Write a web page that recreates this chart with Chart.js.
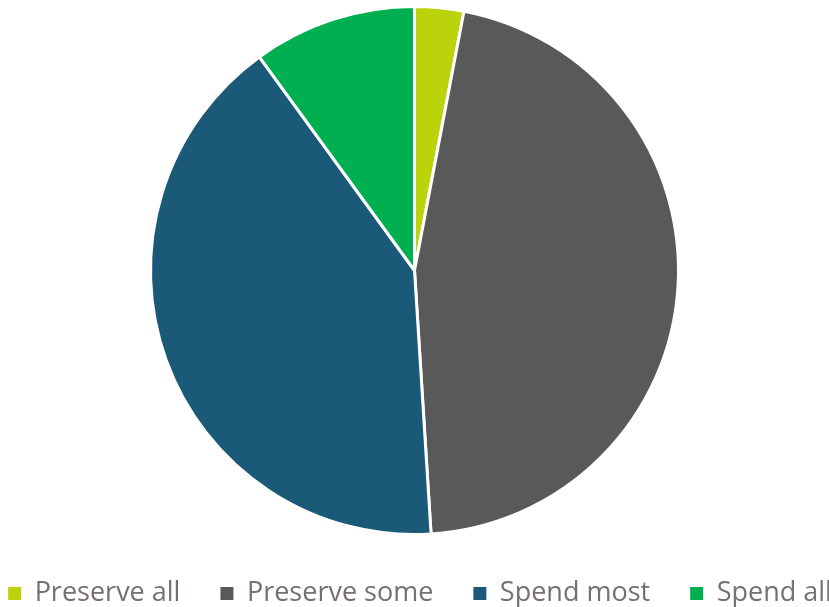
<!DOCTYPE html>
<html>
<head>
<meta charset="utf-8">
<script src="https://cdn.jsdelivr.net/npm/chart.js@4"></script>
<style>
  html, body { margin: 0; padding: 0; background: #fff; }
  #wrap { width: 829px; height: 607px; }
</style>
</head>
<body>
<div id="wrap"><canvas id="pieChart" width="829" height="607"></canvas></div>
<script>
// chart data
const labels = ["Preserve all", "Preserve some", "Spend most", "Spend all"];
const values = [3, 46, 41, 10];
const colors = ["#BBD30B", "#595959", "#1A5977", "#00B050"];

// keep the legend on one row and give it a fixed height
const legendFitPlugin = {
  id: "legendFit",
  afterInit(chart) {
    const legend = chart.legend;
    const fit = legend.fit;
    legend.fit = function () {
      const w = this.maxWidth;
      this.maxWidth = 2000;
      fit.call(this);
      this.maxWidth = w;
      this.width = w;
      this.height = 67;
    };
  },
  afterLayout(chart) {
    // widen the legend box so the last item is not wrapped away
    chart.legend.left -= 200;
    chart.legend.right += 211;
  }
};

new Chart(document.getElementById("pieChart"), {
  type: "pie",
  data: {
    labels: labels,
    datasets: [
      {
        data: values,
        backgroundColor: colors,
        borderColor: "#fff",
        borderWidth: 3,
        radius: 264
      }
    ]
  },
  options: {
    responsive: false,
    animation: false,
    layout: { padding: { top: 1, bottom: 0, left: 0, right: 0 } },
    plugins: {
      tooltip: { enabled: false },
      legend: {
        position: "bottom",
        labels: {
          color: "#767070",
          boxWidth: 13,
          boxHeight: 13,
          padding: 40,
          font: { family: "Open Sans", size: 27 },
          generateLabels(chart) {
            const items = Chart.overrides.pie.plugins.legend.labels.generateLabels(chart);
            items.forEach(it => { it.lineWidth = 0; });
            return items;
          }
        }
      }
    }
  },
  plugins: [legendFitPlugin]
});
</script>
</body>
</html>
